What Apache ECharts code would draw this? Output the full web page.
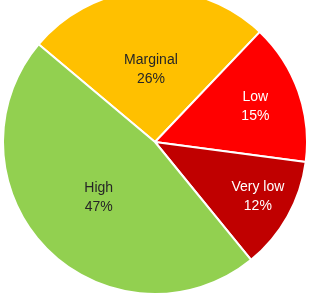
<!DOCTYPE html>
<html lang="en">
<head>
    <meta charset="UTF-8">
    <title></title>
    <script src="https://cdn.jsdelivr.net/npm/echarts@6/dist/echarts.min.js"></script>
    <style>
        html,body{margin:0;padding:0;background:#fff}
        #data{width:309px;height:296px}
    </style>
</head>
<body>
<div id="data"></div>
<script>
/*
 * 数据
 */
var names=["Marginal","Low","Very low","High"];
var values=[26,15,12,47];
var colors=["#FFC000","#FF0000","#C00000","#92D050"];
var textColors=["#262626","#ffffff","#ffffff","#262626"];
// label distance from centre, as share of radius
var labelFrac=[0.48,0.7,0.76,0.52];

var cx=155,cy=142,r=152;
var startAngle=140;

function buildData(){
    var arr=[];
    for(var i=0;i<names.length;i++){
        arr.push({
            name:names[i],
            value:values[i],
            itemStyle:{color:colors[i]},
            label:{color:textColors[i]}
        });
    }
    return arr;
}

function midAngle(idx){
    var total=0,before=0;
    for(var i=0;i<values.length;i++){
        total+=values[i];
        if(i<idx) before+=values[i];
    }
    var a=startAngle-(before+values[idx]/2)/total*360;
    return a*Math.PI/180;
}

var myChart=echarts.init(document.getElementById('data'));
var option={
    animation:false,
    series:[{
        type:'pie',
        center:[cx,cy],
        radius:[0,r],
        startAngle:startAngle,
        clockwise:true,
        data:buildData(),
        itemStyle:{borderColor:'#ffffff',borderWidth:2},
        label:{
            show:true,
            position:'inside',
            fontFamily:'Liberation Sans',
            fontSize:14,
            lineHeight:19,
            formatter:function(p){return p.name+'\n'+p.value+'%';}
        },
        labelLine:{show:false},
        labelLayout:function(p){
            var a=midAngle(p.dataIndex);
            var d=labelFrac[p.dataIndex]*r;
            return {x:cx+Math.cos(a)*d+(p.dataIndex==2?2:0),y:cy-Math.sin(a)*d+(p.dataIndex==2?-2:0),align:'center',verticalAlign:'middle'};
        }
    }]
};
myChart.setOption(option,true);
</script>
</body>
</html>
